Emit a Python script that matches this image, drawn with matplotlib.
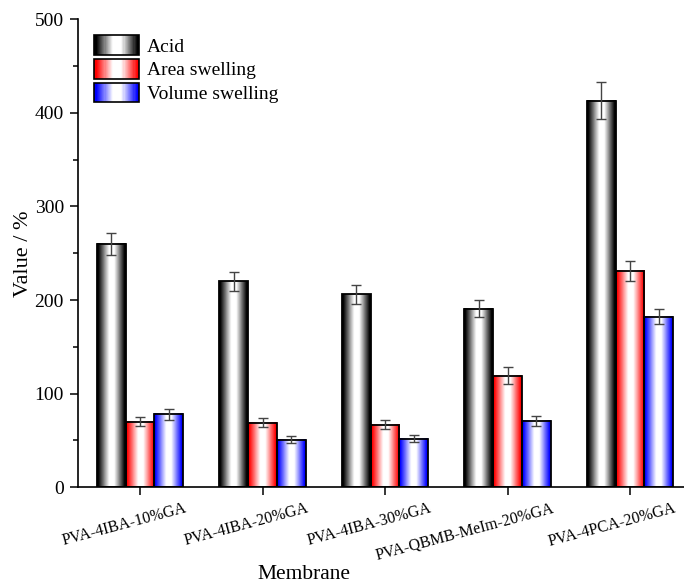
import numpy as np
import matplotlib
matplotlib.use('Agg')
import matplotlib.pyplot as plt
from matplotlib.colors import LinearSegmentedColormap
from matplotlib.patches import Rectangle
from matplotlib.legend_handler import HandlerBase
from matplotlib.ticker import MultipleLocator
from matplotlib.transforms import ScaledTranslation

plt.rcParams['font.family'] = ['Liberation Serif', 'DejaVu Serif']

categories = ['PVA-4IBA-10%GA', 'PVA-4IBA-20%GA', 'PVA-4IBA-30%GA',
              'PVA-QBMB-MeIm-20%GA', 'PVA-4PCA-20%GA']
series_names = ['Acid', 'Area swelling', 'Volume swelling']
acid = [260, 220, 206, 191, 413]
acid_err = [12, 10, 10, 9, 20]
area = [70, 69, 67, 119, 231]
area_err = [5, 5, 5, 9, 11]
volume = [78, 51, 52, 71, 182]
volume_err = [6, 4, 4, 5, 8]
base_colors = ['#000000', '#ff0000', '#0000ff']


def make_cmap(c):
    """Edge colour -> white centre -> edge colour."""
    return LinearSegmentedColormap.from_list(
        'g', [(0, c), (0.04, c), (0.42, 'white'), (0.6, 'white'),
              (0.96, c), (1, c)])


class GradientHandler(HandlerBase):
    def __init__(self, cmap):
        super().__init__()
        self.cmap = cmap

    def create_artists(self, legend, orig_handle, xdescent, ydescent,
                       width, height, fontsize, trans):
        n = 40
        arts = []
        for i in range(n):
            r = Rectangle((-xdescent + width * i / n, -ydescent),
                          width / n * 1.05, height,
                          facecolor=self.cmap((i + 0.5) / n),
                          edgecolor='none', transform=trans)
            arts.append(r)
        arts.append(Rectangle((-xdescent, -ydescent), width, height,
                              facecolor='none', edgecolor='black', lw=1.2,
                              transform=trans))
        return arts


def main():
    fig = plt.figure(figsize=(6.84, 5.84), dpi=100)
    ax = fig.add_axes([0.1136, 0.1656, 0.8864, 0.8014])

    x = np.arange(len(categories))
    w = 0.235
    data = [(acid, acid_err), (area, area_err), (volume, volume_err)]
    grad = np.linspace(0, 1, 64).reshape(1, -1)
    proxies = []
    handlers = {}
    for k, (vals, errs) in enumerate(data):
        cmap = make_cmap(base_colors[k])
        xs = x + (k - 1) * w
        for xi, v in zip(xs, vals):
            ax.imshow(grad, cmap=cmap, aspect='auto', interpolation='bilinear',
                      extent=(xi - w / 2, xi + w / 2, 0, v), zorder=2)
        ax.bar(xs, vals, w, facecolor='none', edgecolor='black', lw=1.3,
               zorder=3)
        ax.errorbar(xs, vals, yerr=errs, fmt='none', ecolor='#444444',
                    elinewidth=1, capsize=3.3, capthick=1, zorder=4)
        p = Rectangle((0, 0), 1, 1)
        proxies.append(p)
        handlers[p] = GradientHandler(cmap)

    ax.set_xlim(-0.509, 4.44)
    ax.set_ylim(0, 500)
    ax.spines['top'].set_visible(False)
    ax.spines['right'].set_visible(False)
    ax.spines['left'].set_linewidth(1.2)
    ax.spines['bottom'].set_linewidth(1.2)
    ax.yaxis.set_major_locator(MultipleLocator(100))
    ax.yaxis.set_minor_locator(MultipleLocator(50))
    ax.tick_params(axis='y', which='major', length=6, width=1.1,
                   labelsize=14, pad=4)
    ax.tick_params(axis='y', which='minor', length=3.5, width=1.1)
    ax.tick_params(axis='x', length=6, width=1.1, labelsize=11.5, pad=3.5)
    ax.set_xticks(x)
    ax.set_xticklabels(categories, rotation=15, ha='right', va='top',
                       rotation_mode='anchor')
    shift = ScaledTranslation(0.44, 0, fig.dpi_scale_trans)
    for lab in ax.get_xticklabels():
        lab.set_transform(lab.get_transform() + shift)

    ax.set_ylabel('Value / %', fontsize=16, labelpad=1)
    ax.set_xlabel('Membrane', fontsize=15.5)
    ax.xaxis.set_label_coords(0.373, -0.165)

    ax.legend(proxies, series_names, handler_map=handlers, loc='upper left',
              bbox_to_anchor=(0.005, 0.995), frameon=False, fontsize=14,
              handlelength=2.3, handleheight=1.2, labelspacing=0.16,
              handletextpad=0.4, borderaxespad=0.3)

    fig.savefig('out.png', dpi=100)


if __name__ == '__main__':
    main()
